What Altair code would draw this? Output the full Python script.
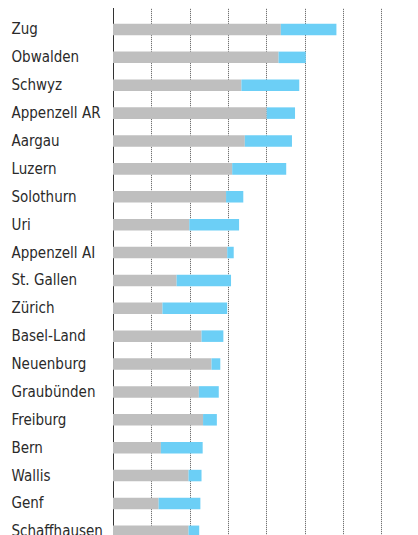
import altair as alt
import pandas as pd

cantons = ["Basel-Stadt", "Zug", "Obwalden", "Schwyz", "Appenzell AR", "Aargau",
           "Luzern", "Solothurn", "Uri", "Appenzell AI", "St. Gallen", "Zürich",
           "Basel-Land", "Neuenburg", "Graubünden", "Freiburg", "Bern", "Wallis",
           "Genf", "Schaffhausen"]
grey_part = [59.0, 43.8, 43.2, 33.5, 40.1, 34.4, 31.1, 29.5, 19.9, 29.8,
             16.6, 12.9, 23.1, 25.7, 22.4, 23.5, 12.5, 19.7, 11.9, 19.7]
blue_part = [12.8, 14.5, 7.1, 15.1, 7.4, 12.3, 14.1, 4.5, 13.0, 1.7,
             14.2, 16.9, 5.7, 2.3, 5.2, 3.6, 10.9, 3.4, 10.9, 2.8]
parts = ["Teil 1", "Teil 2"]
part_colors = ["#bfbfbf", "#6ccff6"]
grid_values = [10, 20, 30, 40, 50, 60, 70]

rows = []
for c, g, b in zip(cantons, grey_part, blue_part):
    rows.append({"Kanton": c, "Teil": parts[0], "Wert": g, "o": 0})
    rows.append({"Kanton": c, "Teil": parts[1], "Wert": b, "o": 1})
df = pd.DataFrame(rows)

FONT = "DejaVu Sans Condensed, sans-serif"

step = 27.88
r0 = -6.4 - step / 2
r1 = r0 + step * len(cantons)

chart = alt.Chart(df).mark_bar().encode(
    y=alt.Y("Kanton:N", sort=None,
            scale=alt.Scale(domain=cantons, range=[r0, r1],
                            paddingInner=0.587, paddingOuter=0.2935),
            axis=alt.Axis(title=None, ticks=False, domain=True,
                          domainColor="#333333", domainWidth=1,
                          labelAlign="left", labelBaseline="middle",
                          labelPadding=102, labelFont=FONT, labelFontSize=15,
                          labelColor="#2a2a2a", labelLimit=200, grid=False)),
    x=alt.X("Wert:Q", stack="zero",
            scale=alt.Scale(domain=[0, 77.5], nice=False, zero=True),
            axis=alt.Axis(title=None, labels=False, ticks=False, domain=False,
                          values=grid_values, grid=True, gridColor="#555555",
                          gridDash=[1, 1], gridWidth=1)),
    color=alt.Color("Teil:N", scale=alt.Scale(domain=parts, range=part_colors),
                    legend=None),
    order=alt.Order("o:Q"),
).properties(
    width=297,
    height=527,
    autosize=alt.AutoSizeParams(type="none"),
    padding={"left": 105, "top": 0, "right": 0, "bottom": 0},
).configure_view(stroke=None)

chart.save("out.html", embed_options={"renderer": "svg", "actions": False})
